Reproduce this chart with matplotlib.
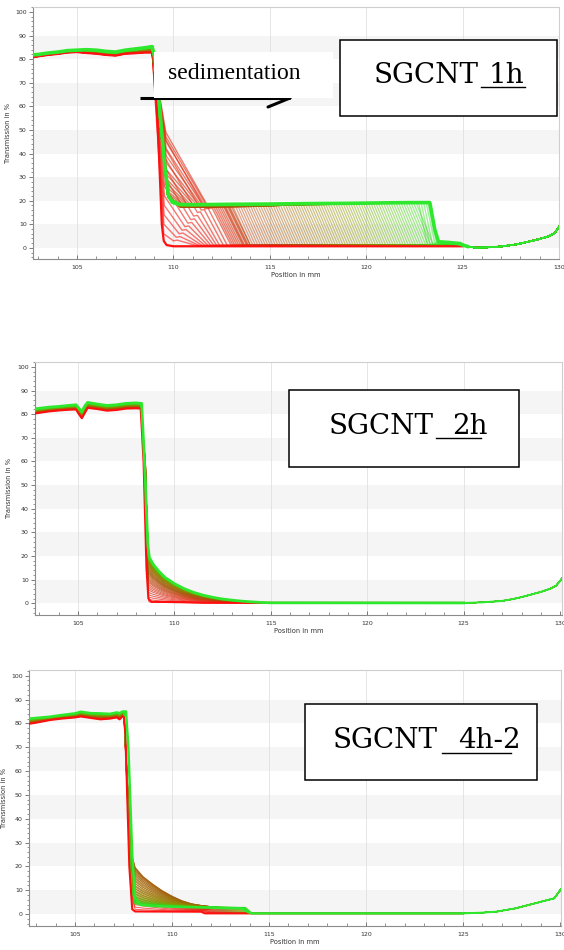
import numpy as np
import matplotlib
matplotlib.use("Agg")
import matplotlib.pyplot as plt
from matplotlib.colors import LinearSegmentedColormap
from matplotlib.patches import Rectangle
from matplotlib.lines import Line2D
from matplotlib.ticker import MultipleLocator

# ---------------- data ----------------
X_TICKS = [105, 110, 115, 120, 125, 130]
X_TICK_LABELS = ["105", "110", "115", "120", "125", "130"]
Y_TICKS = [0, 10, 20, 30, 40, 50, 60, 70, 80, 90, 100]
BAND_STARTS = [0, 20, 40, 60, 80]
X_LABEL = "Position in mm"
Y_LABEL = "Transmission in %"
SAMPLE_PREFIX = "SGCNT"
SAMPLE_SUFFIX = ["1h", "2h", "4h-2"]
ARROW_TEXT = "sedimentation"

# ---- panel 1 (SGCNT_1h) ----
P1_PLAT_X = [102.72, 103.0, 103.5, 104.0, 104.5, 105.0, 105.5, 106.0, 106.5, 107.0, 107.5, 108.0, 108.5, 108.9]
P1_PLAT_GREEN = [81.8, 82.0, 82.6, 83.0, 83.6, 83.8, 84.0, 83.8, 83.3, 83.0, 83.8, 84.3, 84.8, 85.3]
P1_PLAT_RED = [80.8, 81.2, 81.8, 82.2, 82.8, 83.0, 82.6, 82.3, 81.8, 81.5, 82.3, 82.5, 82.8, 82.8]
P1_RED_X = [109.05, 109.25, 109.4, 109.5, 109.65, 110.0, 125.0]
P1_RED_Y = [76, 40, 10, 3, 1.2, 0.7, 0.7]
P1_GREEN_X = [109.05, 109.3, 109.55, 109.75, 109.95, 110.3, 111.0, 113.0, 115.0, 117.0, 119.0,
              121.0, 122.5, 123.3, 123.55, 123.75, 124.3, 124.8, 125.1, 125.3]
P1_GREEN_Y = [80, 58, 35, 22, 19.3, 18.4, 18.3, 18.5, 18.6, 18.8, 18.9, 19.1, 19.2, 19.2, 8, 2.6, 2.3,
              1.8, 1.0, 0.5]
P1_TAIL_X = [125.3, 125.7, 126.2, 127.0, 127.8, 128.5, 129.0, 129.5, 129.8, 130.0]
P1_TAIL_Y = [0.5, 0.1, 0.2, 0.6, 1.5, 2.8, 3.8, 5.0, 6.5, 9.0]
# early profiles with the transient hump next to the meniscus
P1_HUMP_DROP_X = [109.5, 109.51, 109.52, 109.53, 109.54, 109.55, 109.56, 109.57, 109.58, 109.59,
                  109.6, 109.61, 109.62, 109.62, 109.63, 109.63, 109.64, 109.65, 109.66, 109.67,
                  109.68, 109.69, 109.7, 109.71]
P1_HUMP_PEAK = [6, 10, 14, 18, 22, 26, 30, 34, 38, 42,
                46, 49, 47, 45, 42, 39, 36, 33, 31, 29,
                27, 25.5, 24, 23]
P1_HUMP_KNEE = [110.0, 110.15, 110.3, 110.45, 110.6, 110.75, 110.9, 111.05, 111.25, 111.45,
                111.65, 111.85, 111.8, 111.7, 111.6, 111.5, 111.4, 111.3, 111.15, 111.0,
                110.9, 110.8, 110.7, 110.6]
P1_HUMP_LEVEL = [3, 4.5, 6, 7.5, 9, 10.5, 12, 13.5, 15, 16,
                 16.5, 16.8, 16.9, 17.0, 17.1, 17.2, 17.2, 17.3, 17.3, 17.4,
                 17.4, 17.5, 17.5, 17.5]
P1_HUMP_FRONT = [110.2, 110.35, 110.5, 110.65, 110.8, 110.95, 111.1, 111.25, 111.4, 111.6,
                 111.8, 112.0, 112.1, 112.2, 112.3, 112.4, 112.5, 112.6, 112.65, 112.7,
                 112.8, 112.85, 112.9, 113.0]
P1_HUMP_WIDTH = 1.0
# later profiles: clear plateau whose front moves towards the bottom
P1_FLAT_DROP = (109.72, 21.5)
P1_TOP_X = [110.35, 113.0, 115.0, 117.0, 119.0, 121.0, 123.4]
P1_TOP_Y = [18.4, 18.5, 18.6, 18.8, 18.9, 19.1, 19.2]
P1_FLAT_FRONT = [113.10, 113.23, 113.36, 113.49, 113.62, 113.75, 113.88, 114.01, 114.14, 114.27,
                 114.40, 114.53, 114.66, 114.79, 114.92, 115.05, 115.18, 115.31, 115.44, 115.57,
                 115.70, 115.83, 115.96, 116.09, 116.22, 116.35, 116.48, 116.61, 116.74, 116.87,
                 117.00, 117.13, 117.26, 117.39, 117.52, 117.65, 117.78, 117.91, 118.04, 118.17,
                 118.30, 118.43, 118.56, 118.69, 118.82, 118.95, 119.08, 119.21, 119.34, 119.47,
                 119.60, 119.73, 119.86, 119.99, 120.12, 120.25, 120.38, 120.51, 120.64, 120.77,
                 120.90, 121.03, 121.16, 121.29, 121.42, 121.55, 121.68, 121.81, 121.94, 122.07,
                 122.20, 122.33, 122.46, 122.59, 122.72, 122.85, 122.98, 123.11, 123.20, 123.28]
P1_GROUP_OFFSET = [1.0, 0.8, 0.6, 0.45, 0.3, 0.2, 0.1, 0.0]
P1_FRONT_WIDTH = 0.9
P1_LEDGE_WIDTH = 0.45
P1_BASE = 1.0
P1_LEDGE = [1.3, 1.6, 1.9, 2.1, 2.3, 2.4]

# ---- panel 2 (SGCNT_2h) ----
P2_PLAT_X = [102.77, 103.0, 103.5, 104.0, 104.5, 104.9, 105.05, 105.2, 105.35, 105.5, 106.0, 106.5, 107.0, 107.5, 108.0, 108.25]
P2_PLAT_GREEN = [82.3, 82.5, 83.0, 83.3, 83.7, 84.0, 82.5, 81.0, 83.5, 85.0, 84.3, 83.7, 84.0, 84.6, 84.8, 84.6]
P2_PLAT_RED = [80.3, 80.6, 81.2, 81.6, 81.9, 82.0, 80.0, 78.3, 80.5, 82.7, 82.2, 81.5, 81.8, 82.4, 82.5, 82.4]
P2_RED_X = [108.4, 108.55, 108.65, 108.8, 110.5, 111.5, 125.0]
P2_RED_Y = [60, 15, 2, 0.6, 0.5, 0.2, 0.15]
P2_GREEN_DROP_X = [108.3, 108.45, 108.62]
P2_GREEN_DROP_Y = [84.6, 60, 25]
P2_DECAY_X = [108.7, 108.9, 109.2, 109.5, 110.0, 110.5, 111.0, 111.5, 112.0, 112.5, 113.0, 113.5, 114.0, 114.5, 115.0, 125.0]
P2_DECAY_Y = [19.4, 16.5, 13.5, 11.0, 8.3, 6.2, 4.6, 3.4, 2.5, 1.8, 1.3, 0.9, 0.6, 0.35, 0.2, 0.15]
P2_FLOOR = 0.15
P2_TAIL_X = [125.0, 126.0, 127.0, 127.5, 128.0, 128.5, 129.0, 129.5, 129.8, 130.0, 130.1]
P2_TAIL_Y = [0.15, 0.4, 1.0, 1.7, 2.6, 3.7, 4.8, 6.2, 7.5, 9.5, 10.5]
P2_FAN_AMP = [0.03, 0.08, 0.13, 0.18, 0.23, 0.28, 0.32, 0.36, 0.4, 0.44,
              0.47, 0.5, 0.53, 0.56, 0.59, 0.62, 0.64, 0.66, 0.68, 0.7,
              0.72, 0.74, 0.76, 0.78, 0.8, 0.815, 0.83, 0.845, 0.86, 0.87,
              0.88, 0.89, 0.9, 0.91, 0.92, 0.93, 0.94, 0.945, 0.95, 0.955,
              0.96, 0.965, 0.97, 0.975, 0.98, 0.985, 0.99, 0.993, 0.996, 0.999]

# ---- panel 3 (SGCNT_4h-2) ----
P3_PLAT_X = [102.63, 103.0, 103.7, 104.3, 105.0, 105.3, 105.8, 106.3, 106.8, 107.15, 107.3, 107.45, 107.53]
P3_PLAT_GREEN = [82.0, 82.3, 82.8, 83.5, 84.2, 84.9, 84.3, 84.2, 84.0, 84.6, 84.3, 85.0, 85.0]
P3_PLAT_RED = [79.8, 80.3, 81.4, 82.0, 82.5, 82.9, 82.3, 81.7, 82.0, 82.5, 81.7, 83.0, 82.5]
P3_RED_X = [107.6, 107.8, 107.95, 108.1, 111.5, 111.7, 125.0]
P3_RED_Y = [75, 20, 2.0, 1.1, 1.0, 0.3, 0.3]
P3_GREEN_X = [107.63, 107.75, 107.95, 108.1, 108.35, 109.0, 110.0, 111.0, 112.0, 113.0, 113.6, 113.9, 114.1, 125.0]
P3_GREEN_Y = [85.0, 70, 25, 7, 3.9, 3.4, 3.1, 2.9, 2.7, 2.5, 2.4, 1.0, 0.3, 0.3]
P3_DECAY_X = [108.1, 108.5, 109.0, 109.5, 110.0, 110.5, 111.0, 111.5, 112.0, 112.5, 113.0, 113.5, 114.0]
P3_DECAY_Y = [17.6, 13.8, 10.6, 7.8, 5.5, 3.6, 2.3, 1.6, 1.1, 0.6, 0.3, 0.1, 0.0]
P3_FLOOR = 0.3
P3_TAIL_X = [125.0, 126.0, 126.7, 127.7, 128.7, 129.7, 130.05]
P3_TAIL_Y = [0.3, 0.6, 1.0, 2.4, 4.5, 6.6, 10.5]
P3_FAN_AMP = [0.05, 0.1, 0.16, 0.22, 0.28, 0.34, 0.4, 0.46, 0.52, 0.58,
              0.64, 0.7, 0.76, 0.82, 0.87, 0.92, 0.96, 0.99, 1.0, 0.98,
              0.94, 0.89, 0.84, 0.79, 0.74, 0.69, 0.64, 0.59, 0.54, 0.5,
              0.46, 0.42, 0.38, 0.35, 0.32, 0.29, 0.26, 0.24, 0.22, 0.2,
              0.18, 0.16, 0.15, 0.14, 0.13, 0.12, 0.11, 0.1, 0.09, 0.08]
P3_FAN_LEVEL = [1.1, 1.15, 1.2, 1.25, 1.3, 1.35, 1.4, 1.45, 1.5, 1.55,
                1.6, 1.65, 1.7, 1.75, 1.8, 1.85, 1.9, 1.95, 2.0, 2.05,
                2.1, 2.14, 2.18, 2.22, 2.26, 2.3, 2.34, 2.38, 2.42, 2.46,
                2.5, 2.52, 2.54, 2.56, 2.58, 2.6, 2.62, 2.64, 2.66, 2.68,
                2.7, 2.71, 2.72, 2.73, 2.74, 2.75, 2.76, 2.77, 2.78, 2.8]
P3_FAN_FRONT = [111.6, 111.65, 111.7, 111.75, 111.8, 111.85, 111.9, 111.95, 112.0, 112.05,
                112.1, 112.15, 112.2, 112.25, 112.3, 112.35, 112.4, 112.45, 112.5, 112.55,
                112.6, 112.65, 112.7, 112.75, 112.8, 112.85, 112.9, 112.95, 113.0, 113.05,
                113.1, 113.15, 113.2, 113.25, 113.3, 113.35, 113.4, 113.45, 113.5, 113.55,
                113.6, 113.62, 113.64, 113.66, 113.68, 113.7, 113.72, 113.74, 113.76, 113.8]

# ---------------- figure ----------------
W, H = 564, 950
fig = plt.figure(figsize=(W / 100, H / 100), dpi=100)
fig.patch.set_facecolor("white")


def fx(x):
    return x / W


def fy(y):
    return 1 - y / H


cmap = LinearSegmentedColormap.from_list(
    "rg", ["#ff1414", "#a8520a", "#8a9600", "#22e622"])
RED = "#ff1010"
GREEN = "#2ee82e"
FAN_LW = 0.7
FAN_ALPHA = 0.7
P1_FAN_LW = 1.0
P1_FAN_ALPHA = 0.45


def style_axes(ax, xlim, ylim, left_px, right_px, ylabel_px):
    ax.set_xlim(*xlim)
    ax.set_ylim(*ylim)
    ax.set_facecolor("white")
    for lo in BAND_STARTS:
        ax.axhspan(lo, lo + 10, color="#f5f5f5", lw=0, zorder=0)
    for xv in X_TICKS[:-1]:
        ax.axvline(xv, color="#e0e0e0", lw=0.6, zorder=0.5)
    ax.set_xticks(X_TICKS)
    ax.set_xticklabels(X_TICK_LABELS)
    ax.set_yticks(Y_TICKS)
    ax.xaxis.set_minor_locator(MultipleLocator(1))
    ax.yaxis.set_minor_locator(MultipleLocator(2))
    ax.tick_params(axis="x", which="major", direction="in", length=3.0, width=0.6,
                   colors="#666666", labelcolor="#333333", labelsize=4.5, pad=4)
    ax.tick_params(axis="x", which="minor", direction="in", length=2.2, width=0.5, colors="#666666")
    ax.tick_params(axis="y", which="major", direction="out", length=3.0, width=0.6,
                   colors="#666666", labelcolor="#333333", labelsize=4.5, pad=1.5)
    ax.tick_params(axis="y", which="minor", direction="out", length=1.6, width=0.5, colors="#666666")
    for s in ("left", "bottom"):
        ax.spines[s].set_color("#8c8c8c")
        ax.spines[s].set_linewidth(0.8)
    for s in ("top", "right"):
        ax.spines[s].set_color("#cfcfcf")
        ax.spines[s].set_linewidth(0.8)
    ax.set_xlabel(X_LABEL, fontsize=4.8, color="#333333", labelpad=1.5)
    ax.set_ylabel(Y_LABEL, fontsize=4.8, color="#333333")
    ax.yaxis.set_label_coords((ylabel_px - left_px) / (right_px - left_px), 0.5)


def blend(a, b, w):
    return [ai + w * (bi - ai) for ai, bi in zip(a, b)]


# ---------- panel 1 ----------
ax1 = fig.add_axes([fx(33), fy(259), (559 - 33) / W, (259 - 7) / H])
style_axes(ax1, (102.72, 130.0), (-4.7, 102.1), 33, 559, 11)
n_h = len(P1_HUMP_FRONT)
n_f = len(P1_FLAT_FRONT)
n_tot = n_h + n_f
for i in range(n_h):
    t = (i + 1) / (n_tot + 1)
    plat = blend(P1_PLAT_RED, P1_PLAT_GREEN, t)
    F = P1_HUMP_FRONT[i]
    xs = list(P1_PLAT_X) + [P1_HUMP_DROP_X[i], P1_HUMP_KNEE[i], F, F + P1_HUMP_WIDTH, 125.1] + P1_TAIL_X
    ys = plat + [P1_HUMP_PEAK[i], P1_HUMP_LEVEL[i], P1_HUMP_LEVEL[i] + 0.3, P1_BASE, P1_BASE] + P1_TAIL_Y
    ax1.plot(xs, ys, color=cmap(t), lw=P1_FAN_LW, alpha=P1_FAN_ALPHA + 0.15, zorder=2)
group_size = n_f // len(P1_GROUP_OFFSET)
for k in range(n_f):
    i = n_h + k
    t = (i + 1) / (n_tot + 1)
    plat = blend(P1_PLAT_RED, P1_PLAT_GREEN, t)
    off = P1_GROUP_OFFSET[min(k // group_size, len(P1_GROUP_OFFSET) - 1)]
    F = P1_FLAT_FRONT[k]
    j = k - (n_f - len(P1_LEDGE))
    base = P1_LEDGE[j] if j >= 0 else P1_BASE
    w = P1_LEDGE_WIDTH if j >= 0 else P1_FRONT_WIDTH
    mid_x = [x for x in P1_TOP_X if x < F]
    mid_y = [y - off for x, y in zip(P1_TOP_X, P1_TOP_Y) if x < F]
    yF = float(np.interp(F, P1_TOP_X, P1_TOP_Y)) - off
    xs = list(P1_PLAT_X) + [P1_FLAT_DROP[0]] + mid_x + [F, F + w, 124.9, 125.1] + P1_TAIL_X
    ys = plat + [P1_FLAT_DROP[1]] + mid_y + [yF, base, base, 1.0] + P1_TAIL_Y
    ax1.plot(xs, ys, color=cmap(t), lw=P1_FAN_LW, alpha=P1_FAN_ALPHA, zorder=2)
ax1.plot(P1_PLAT_X + P1_RED_X, P1_PLAT_RED + P1_RED_Y, color=RED, lw=1.6, zorder=3)
ax1.plot(P1_PLAT_X + P1_GREEN_X, P1_PLAT_GREEN + P1_GREEN_Y, color=GREEN, lw=2.6, zorder=4,
         solid_capstyle="round")
ax1.plot(P1_TAIL_X, P1_TAIL_Y, color=GREEN, lw=1.3, zorder=4)

# ---------- panel 2 ----------
ax2 = fig.add_axes([fx(35), fy(615), (562 - 35) / W, (615 - 362) / H])
style_axes(ax2, (102.77, 130.1), (-4.96, 102.1), 35, 562, 12)
n2 = len(P2_FAN_AMP)
for i in range(n2):
    t = (i + 1) / (n2 + 1)
    a = P2_FAN_AMP[i]
    plat = blend(P2_PLAT_RED, P2_PLAT_GREEN, t)
    dec = [max(a * v, P2_FLOOR) for v in P2_DECAY_Y]
    xs = list(P2_PLAT_X) + [108.5, 108.66] + P2_DECAY_X + P2_TAIL_X
    ys = plat + [60 - 10 * t, max(a * P2_DECAY_Y[0], 1.0)] + dec + P2_TAIL_Y
    ax2.plot(xs, ys, color=cmap(t), lw=FAN_LW, alpha=FAN_ALPHA, zorder=2)
ax2.plot(P2_PLAT_X + P2_RED_X, P2_PLAT_RED + P2_RED_Y, color=RED, lw=1.5, zorder=3)
ax2.plot(P2_PLAT_X + P2_GREEN_DROP_X + P2_DECAY_X, P2_PLAT_GREEN + P2_GREEN_DROP_Y + P2_DECAY_Y,
         color=GREEN, lw=2.0, zorder=4)
ax2.plot(P2_TAIL_X, P2_TAIL_Y, color=GREEN, lw=1.4, zorder=4)

# ---------- panel 3 ----------
ax3 = fig.add_axes([fx(29), fy(926), (561 - 29) / W, (926 - 670) / H])
style_axes(ax3, (102.63, 130.05), (-5.0, 102.4), 29, 561, 7)
n3 = len(P3_FAN_AMP)
for i in range(n3):
    t = (i + 1) / (n3 + 1)
    a = P3_FAN_AMP[i]
    q = P3_FAN_LEVEL[i]
    F = P3_FAN_FRONT[i]
    plat = blend(P3_PLAT_RED, P3_PLAT_GREEN, t)
    body_x = [x for x in P3_DECAY_X if x < F]
    body_y = [q + a * y for x, y in zip(P3_DECAY_X, P3_DECAY_Y) if x < F]
    yF = q + a * float(np.interp(F, P3_DECAY_X, P3_DECAY_Y))
    xs = list(P3_PLAT_X) + [107.9] + body_x + [F, F + 0.35] + P3_TAIL_X
    ys = plat + [q + a * P3_DECAY_Y[0] + 6] + body_y + [yF, P3_FLOOR] + P3_TAIL_Y
    ax3.plot(xs, ys, color=cmap(t), lw=FAN_LW, alpha=FAN_ALPHA, zorder=2)
ax3.plot(P3_PLAT_X + P3_RED_X, P3_PLAT_RED + P3_RED_Y, color=RED, lw=1.5, zorder=3)
ax3.plot(P3_PLAT_X + P3_GREEN_X, P3_PLAT_GREEN + P3_GREEN_Y, color=GREEN, lw=1.8, zorder=4)
ax3.plot(P3_TAIL_X, P3_TAIL_Y, color=GREEN, lw=1.4, zorder=4)

# ---------------- annotations (figure pixel coords) ----------------
def fig_rect(x0, y0, x1, y1, **kw):
    fig.add_artist(Rectangle((fx(x0), fy(y1)), (x1 - x0) / W, (y1 - y0) / H,
                             transform=fig.transFigure, **kw))


def fig_line(xs, ys, **kw):
    fig.add_artist(Line2D([fx(x) for x in xs], [fy(y) for y in ys],
                          transform=fig.transFigure, **kw))


# sedimentation arrow + white label box
fig_line([140, 290], [98, 98], color="black", lw=2.2, zorder=5, solid_capstyle="butt")
fig_line([268, 290], [107, 98], color="black", lw=2.2, zorder=5, solid_capstyle="round")
fig_line([268, 290], [89, 98], color="black", lw=2.2, zorder=5, solid_capstyle="round")
fig_rect(154, 52, 333, 98, facecolor="white", edgecolor="none", zorder=6)
fig.text(fx(168), fy(79), ARROW_TEXT, family="Liberation Serif", fontsize=17,
         ha="left", va="baseline", color="black", zorder=7)

# sample label boxes: (box x0, y0, x1, y1, text x, baseline, suffix x, underline x0, x1, y)
BOXES = [
    (340, 40, 557, 116, 374, 83, 489, 481, 525, 87),
    (289, 390, 519, 467, 329, 434, 452, 436, 481, 438),
    (305, 704, 537, 780, 333, 748, 458, 442, 511, 753),
]
for (bx0, by0, bx1, by1, tx, tb, sx, ux0, ux1, uy), suf in zip(BOXES, SAMPLE_SUFFIX):
    fig_rect(bx0, by0, bx1, by1, facecolor="white", edgecolor="black", lw=1.1, zorder=6)
    fig.text(fx(tx), fy(tb), SAMPLE_PREFIX, family="DejaVu Serif", fontsize=20,
             ha="left", va="baseline", color="black", zorder=7)
    fig.text(fx(sx), fy(tb), suf, family="DejaVu Serif", fontsize=20,
             ha="left", va="baseline", color="black", zorder=7)
    fig_line([ux0, ux1], [uy, uy], color="black", lw=1.0, zorder=7)

fig.savefig("out.png", dpi=100, facecolor="white")
